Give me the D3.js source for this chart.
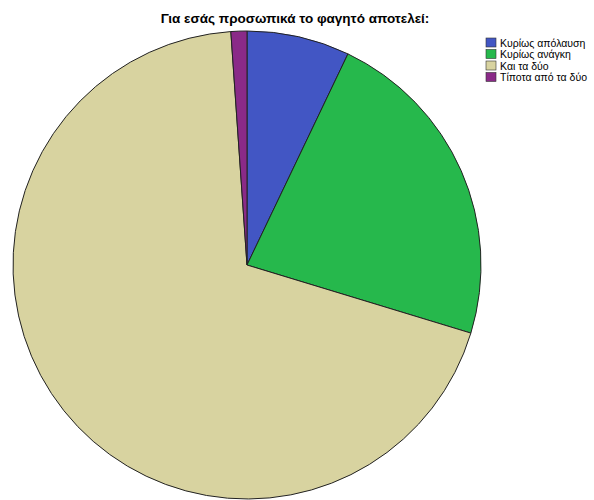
<!DOCTYPE html>
<html>
<head>
<meta charset="utf-8">
<script src="https://cdn.jsdelivr.net/npm/d3@7"></script>
<style>
  html, body { margin: 0; padding: 0; background: #fff; }
  svg { display: block; }
</style>
</head>
<body>
<svg id="chart" width="594" height="500"></svg>
<script>
// Answers to "Για εσάς προσωπικά το φαγητό αποτελεί:" (percent of respondents)
const categories = ["Κυρίως απόλαυση", "Κυρίως ανάγκη", "Και τα δύο", "Τίποτα από τα δύο"];
const values = [7.1, 22.6, 69.2, 1.1];
const colors = ["#4256c4", "#26b84c", "#d8d3a0", "#8a2a88"];
const title = "Για εσάς προσωπικά το φαγητό αποτελεί:";

const svg = d3.select("#chart");
const font = "Arial, 'Liberation Sans', sans-serif";

const cx = 247, cy = 265, r = 234;

const data = categories.map((c, i) => ({ name: c, value: values[i] }));
const pie = d3.pie().sort(null).value(d => d.value).startAngle(0).endAngle(2 * Math.PI);
const arc = d3.arc().innerRadius(0).outerRadius(r);
const color = d3.scaleOrdinal().domain(categories).range(colors);

svg.append("g")
  .attr("transform", `translate(${cx},${cy})`)
  .selectAll("path")
  .data(pie(data))
  .join("path")
  .attr("d", arc)
  .attr("fill", d => color(d.data.name))
  .attr("stroke", "#222")
  .attr("stroke-width", 1);

svg.append("text")
  .attr("x", 295)
  .attr("y", 23)
  .attr("text-anchor", "middle")
  .attr("font-family", font)
  .attr("font-weight", "bold")
  .attr("font-size", 13.5)
  .attr("fill", "#000")
  .text(title);

// Legend
const legend = svg.append("g").attr("transform", "translate(486,38)");
const rows = legend.selectAll("g")
  .data(categories)
  .join("g")
  .attr("transform", (d, i) => `translate(0,${i * 11.5})`);
rows.append("rect")
  .attr("width", 10).attr("height", 9)
  .attr("fill", d => color(d))
  .attr("stroke", "#333").attr("stroke-width", 0.6);
rows.append("text")
  .attr("x", 14).attr("y", 8.5)
  .attr("font-family", font)
  .attr("font-size", 10.5)
  .attr("fill", "#000")
  .text(d => d);
</script>
</body>
</html>
